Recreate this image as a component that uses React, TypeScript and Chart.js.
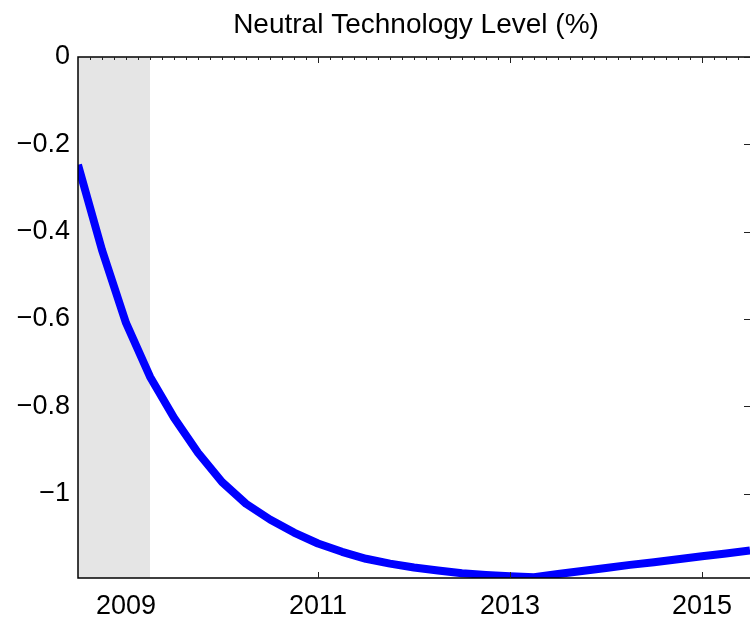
import React, { useEffect, useRef } from "react";
import { Chart, registerables } from "chart.js";

Chart.register(...registerables);

const quarters = [
  2008.5, 2008.75, 2009.0, 2009.25, 2009.5, 2009.75, 2010.0, 2010.25, 2010.5, 2010.75,
  2011.0, 2011.25, 2011.5, 2011.75, 2012.0, 2012.25, 2012.5, 2012.75, 2013.0, 2013.25,
  2013.5, 2013.75, 2014.0, 2014.25, 2014.5, 2014.75, 2015.0, 2015.25, 2015.5,
];
const technologyLevel = [
  -0.247, -0.442, -0.609, -0.732, -0.826, -0.906, -0.973, -1.023, -1.059, -1.089,
  -1.114, -1.133, -1.149, -1.16, -1.169, -1.176, -1.182, -1.186, -1.189, -1.191,
  -1.184, -1.177, -1.17, -1.163, -1.157, -1.15, -1.143, -1.137, -1.13,
];
const xTickValues = [2009, 2011, 2013, 2015];
const xMajorMarks = [2011, 2013, 2015];
const yTickValues = [0, -0.2, -0.4, -0.6, -0.8, -1];
const recession = [2008.5, 2009.25];
const titleText = "Neutral Technology Level (%)";

const FONT = "'Liberation Sans', Arial, Helvetica, sans-serif";

const fmt = (v: number) => {
  if (v === 0) return "0";
  const s = Math.abs(v).toString();
  return (v < 0 ? "\u2212" : "") + s;
};

const framePlugin = {
  id: "frame",
  beforeDatasetsDraw(chart: any) {
    const { ctx, chartArea, scales } = chart;
    const x = scales.x;
    ctx.save();
    ctx.fillStyle = "#e5e5e5";
    const x0 = x.getPixelForValue(recession[0]);
    const x1 = x.getPixelForValue(recession[1]);
    ctx.fillRect(x0, chartArea.top, x1 - x0, chartArea.bottom - chartArea.top);
    ctx.restore();
  },
  afterDraw(chart: any) {
    const { ctx, chartArea, scales } = chart;
    const x = scales.x;
    const y = scales.y;
    const { left, right, top, bottom } = chartArea;
    ctx.save();
    ctx.strokeStyle = "#000";
    ctx.lineWidth = 1.5;
    ctx.beginPath();
    ctx.moveTo(right + 1, top);
    ctx.lineTo(left, top);
    ctx.lineTo(left, bottom);
    ctx.lineTo(right + 1, bottom);
    ctx.stroke();

    ctx.lineWidth = 1;
    ctx.strokeStyle = "#222";
    ctx.beginPath();
    // minor ticks on top, every 1/8 year
    const step = 0.125;
    for (let v = recession[0] + step; v < x.max; v += step) {
      const px = Math.round(x.getPixelForValue(v)) + 0.5;
      ctx.moveTo(px, top);
      ctx.lineTo(px, top + 3);
    }
    xMajorMarks.forEach((v) => {
      const px = Math.round(x.getPixelForValue(v)) + 0.5;
      ctx.moveTo(px, top);
      ctx.lineTo(px, top + 6);
      ctx.moveTo(px, bottom);
      ctx.lineTo(px, bottom - 6);
    });
    yTickValues.forEach((v) => {
      const py = Math.round(y.getPixelForValue(v)) + 0.5;
      ctx.moveTo(right, py);
      ctx.lineTo(right - 6, py);
    });
    ctx.stroke();

    ctx.fillStyle = "#000";
    ctx.font = `28px ${FONT}`;
    ctx.textAlign = "center";
    ctx.textBaseline = "middle";
    ctx.fillText(titleText, (left + right) / 2 + 2, 25);
    ctx.restore();
  },
};

export default function App() {
  const ref = useRef<HTMLCanvasElement | null>(null);
  useEffect(() => {
    if (!ref.current) return;
    const points = quarters.map((q, i) => ({ x: q, y: technologyLevel[i] }));
    const chart = new Chart(ref.current, {
      type: "line",
      data: {
        datasets: [
          {
            data: points,
            borderColor: "#0000ff",
            borderWidth: 8,
            pointRadius: 0,
            tension: 0,
            clip: 0,
            borderJoinStyle: "round",
          } as any,
        ],
      },
      options: {
        animation: false,
        responsive: false,
        devicePixelRatio: 1,
        layout: { padding: { top: 57, right: 0, left: 0, bottom: 0 } },
        plugins: { legend: { display: false }, tooltip: { enabled: false }, title: { display: false } },
        scales: {
          x: {
            type: "linear",
            min: recession[0],
            max: quarters[quarters.length - 1],
            grid: { display: false, drawTicks: false },
            border: { display: false },
            afterBuildTicks: (s: any) => {
              s.ticks = xTickValues.map((v) => ({ value: v }));
            },
            afterFit: (s: any) => {
              s.height = 43;
            },
            ticks: {
              autoSkip: false,
              maxRotation: 0,
              padding: 12,
              color: "#000",
              font: { size: 27, family: FONT },
              callback: (v: any) => String(v),
            },
          },
          y: {
            type: "linear",
            min: -1.193,
            max: 0,
            grid: { display: false, drawTicks: false },
            border: { display: false },
            afterBuildTicks: (s: any) => {
              s.ticks = yTickValues.map((v) => ({ value: v }));
            },
            afterFit: (s: any) => {
              s.width = 78;
            },
            ticks: {
              padding: 8,
              color: "#000",
              font: { size: 27, family: FONT },
              callback: (v: any) => fmt(Number(v)),
            },
          },
        },
      },
      plugins: [framePlugin],
    });
    return () => chart.destroy();
  }, []);
  return (
    <div style={{ position: "fixed", left: 0, top: 0, width: 750, height: 621, overflow: "hidden", background: "#fff" }}>
      <canvas ref={ref} width={750} height={621} style={{ width: 750, height: 621, display: "block" }} />
    </div>
  );
}
